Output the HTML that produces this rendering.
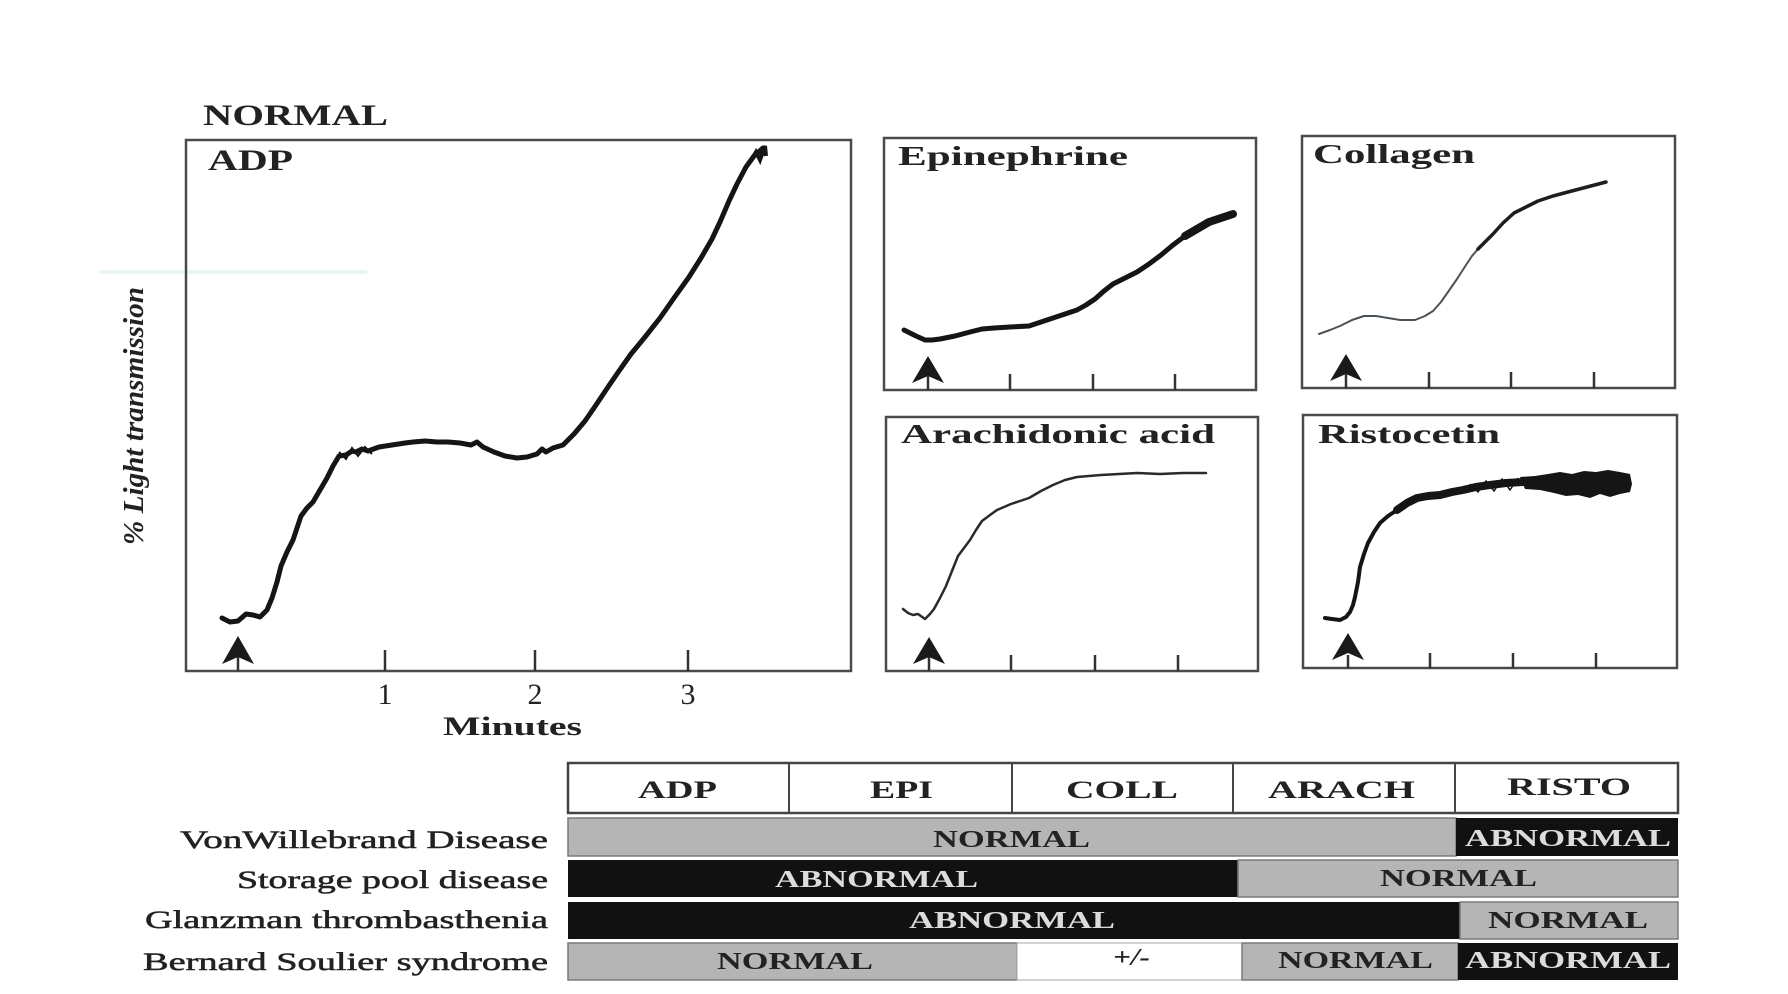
<!DOCTYPE html>
<html>
<head>
<meta charset="utf-8">
<style>
  html,body{margin:0;padding:0;background:#fff;}
  svg{display:block;}
  text{font-family:"Liberation Serif","DejaVu Serif",serif;}
</style>
</head>
<body>
<svg width="1788" height="994" viewBox="0 0 1788 994" xmlns="http://www.w3.org/2000/svg">
  <rect x="0" y="0" width="1788" height="994" fill="#ffffff"/>

  <!-- faint scan artifact -->
  <line x1="100" y1="272" x2="367" y2="272" stroke="#e4f2f6" stroke-width="3"/>

  <!-- Title -->
  <text x="203" y="125" font-size="30" font-weight="bold" fill="#222" textLength="185" lengthAdjust="spacingAndGlyphs">NORMAL</text>

  <!-- ===== ADP main panel ===== -->
  <rect x="186" y="140" width="665" height="531" fill="none" stroke="#4a4a4a" stroke-width="2.5"/>
  <text x="208" y="170" font-size="30" font-weight="bold" fill="#222" textLength="85" lengthAdjust="spacingAndGlyphs">ADP</text>
  <g stroke="#333" stroke-width="2.5">
    <line x1="385" y1="650" x2="385" y2="671"/>
    <line x1="535" y1="650" x2="535" y2="671"/>
    <line x1="688" y1="650" x2="688" y2="671"/>
    <line x1="238" y1="655" x2="238" y2="671"/>
  </g>
  <path d="M238,636 L254,664 L238,657 L222,664 Z" fill="#1a1a1a"/>
  <text x="385" y="704" font-size="30" fill="#222" text-anchor="middle">1</text>
  <text x="535" y="704" font-size="30" fill="#222" text-anchor="middle">2</text>
  <text x="688" y="704" font-size="30" fill="#222" text-anchor="middle">3</text>
  <text x="443" y="735" font-size="26" font-weight="bold" fill="#222" textLength="139" lengthAdjust="spacingAndGlyphs">Minutes</text>
  <!-- y label -->
  <text transform="translate(143,545) rotate(-90)" x="0" y="0" font-size="28" font-weight="bold" font-style="italic" fill="#222" textLength="258" lengthAdjust="spacingAndGlyphs">% Light transmission</text>
  <!-- ADP curve -->
  <polyline fill="none" stroke="#151515" stroke-width="5" stroke-linejoin="round" stroke-linecap="round"
    points="222,618 230,622 238,621 246,614 253,615 260,617 267,610 272,598 277,582 281,566 287,552 293,540 297,528 301,516 307,508 313,502 320,490 327,478 333,466 339,456 346,455 352,451 356,452 362,449 368,451 379,447 392,445 405,443 413,442 425,441 437,442 448,442 460,443 471,445 477,442 483,447 494,452 505,456 517,458 527,457 537,454 542,449 546,452 553,448 563,445 574,434 585,421 596,405 608,387 619,371 631,354 645,337 660,318 674,298 689,277 701,258 712,239 720,222 729,201 737,184 746,167 754,156 763,148"/>
  <polyline fill="none" stroke="#151515" stroke-width="2" points="339,452 346,459 352,448 358,456 365,447 372,454"/>
  <polyline fill="none" stroke="#151515" stroke-width="4" points="750,162 756,152 760,160 765,146 766,156"/>

  <!-- ===== Epinephrine ===== -->
  <rect x="884" y="138" width="372" height="252" fill="none" stroke="#4a4a4a" stroke-width="2.5"/>
  <text x="898" y="165" font-size="27" font-weight="bold" fill="#222" textLength="230" lengthAdjust="spacingAndGlyphs">Epinephrine</text>
  <g stroke="#333" stroke-width="2.5">
    <line x1="1010" y1="374" x2="1010" y2="390"/>
    <line x1="1093" y1="374" x2="1093" y2="390"/>
    <line x1="1175" y1="374" x2="1175" y2="390"/>
    <line x1="928" y1="376" x2="928" y2="390"/>
  </g>
  <path d="M928,356 L944,383 L928,376 L912,383 Z" fill="#1a1a1a"/>
  <polyline fill="none" stroke="#151515" stroke-width="5" stroke-linejoin="round" stroke-linecap="round"
    points="904,330 910,333 916,336 925,340 932,340 940,339 955,336 970,332 982,329 994,328 1010,327 1029,326 1038,323 1047,320 1062,315 1077,310 1086,305 1095,299 1104,291 1113,284 1125,278 1137,272 1149,264 1161,255 1173,245 1185,236 1197,229 1209,222"/>
  <polyline fill="none" stroke="#151515" stroke-width="8" stroke-linejoin="round" stroke-linecap="round"
    points="1185,236 1197,229 1209,222 1221,218 1233,214"/>

  <!-- ===== Collagen ===== -->
  <rect x="1302" y="136" width="373" height="252" fill="none" stroke="#4a4a4a" stroke-width="2.5"/>
  <text x="1313" y="163" font-size="27" font-weight="bold" fill="#222" textLength="162" lengthAdjust="spacingAndGlyphs">Collagen</text>
  <g stroke="#333" stroke-width="2.5">
    <line x1="1429" y1="372" x2="1429" y2="388"/>
    <line x1="1511" y1="372" x2="1511" y2="388"/>
    <line x1="1594" y1="372" x2="1594" y2="388"/>
    <line x1="1346" y1="374" x2="1346" y2="388"/>
  </g>
  <path d="M1346,354 L1362,381 L1346,374 L1330,381 Z" fill="#1a1a1a"/>
  <polyline fill="none" stroke="#4a5258" stroke-width="2" stroke-linejoin="round" stroke-linecap="round"
    points="1319,334 1330,330 1340,326 1352,320 1364,316 1376,316 1388,318 1400,320 1415,320 1425,316 1433,311 1441,302 1448,292 1457,279 1466,265 1472,256 1478,249"/>
  <polyline fill="none" stroke="#1e1e1e" stroke-width="3.5" stroke-linejoin="round" stroke-linecap="round"
    points="1478,249 1486,241 1493,234 1503,223 1514,213 1526,207 1538,201 1553,196 1568,192 1587,187 1606,182"/>

  <!-- ===== Arachidonic acid ===== -->
  <rect x="886" y="417" width="372" height="254" fill="none" stroke="#4a4a4a" stroke-width="2.5"/>
  <text x="901" y="443" font-size="27" font-weight="bold" fill="#222" textLength="314" lengthAdjust="spacingAndGlyphs">Arachidonic acid</text>
  <g stroke="#333" stroke-width="2.5">
    <line x1="1011" y1="655" x2="1011" y2="671"/>
    <line x1="1095" y1="655" x2="1095" y2="671"/>
    <line x1="1178" y1="655" x2="1178" y2="671"/>
    <line x1="929" y1="657" x2="929" y2="671"/>
  </g>
  <path d="M929,637 L945,664 L929,657 L913,664 Z" fill="#1a1a1a"/>
  <polyline fill="none" stroke="#2a2a2a" stroke-width="2.5" stroke-linejoin="round" stroke-linecap="round"
    points="903,609 908,613 913,615 918,614 925,619 930,614 934,609 940,598 946,586 952,571 958,556 964,548 970,540 976,530 982,521 990,515 997,510 1004,507 1011,504 1020,501 1029,498 1041,491 1053,485 1065,480 1077,477 1089,476 1101,475 1119,474 1137,473 1160,474 1183,473 1206,473"/>

  <!-- ===== Ristocetin ===== -->
  <rect x="1303" y="415" width="374" height="253" fill="none" stroke="#4a4a4a" stroke-width="2.5"/>
  <text x="1318" y="443" font-size="27" font-weight="bold" fill="#222" textLength="182" lengthAdjust="spacingAndGlyphs">Ristocetin</text>
  <g stroke="#333" stroke-width="2.5">
    <line x1="1430" y1="653" x2="1430" y2="668"/>
    <line x1="1513" y1="653" x2="1513" y2="668"/>
    <line x1="1596" y1="653" x2="1596" y2="668"/>
    <line x1="1348" y1="655" x2="1348" y2="668"/>
  </g>
  <path d="M1348,633 L1364,660 L1348,653 L1332,660 Z" fill="#1a1a1a"/>
  <polyline fill="none" stroke="#151515" stroke-width="4" stroke-linejoin="round" stroke-linecap="round"
    points="1325,618 1332,619 1340,620 1346,617 1350,612 1353,605 1355,597 1358,582 1360,567 1364,554 1368,543 1374,532 1380,523 1388,516 1397,510"/>
  <polyline fill="none" stroke="#151515" stroke-width="8" stroke-linejoin="round" stroke-linecap="round"
    points="1397,510 1407,503 1417,498 1428,496 1440,495 1452,492 1463,490 1476,487 1490,485 1506,483 1523,482"/>
  <path d="M1520,477 L1535,476 L1548,474 L1560,472 L1572,474 L1584,471 L1596,472 L1608,470 L1620,472 L1630,474 L1632,484 L1630,492 L1620,494 L1610,497 L1600,494 L1590,498 L1578,495 L1566,496 L1554,493 L1540,490 L1525,489 Z" fill="#151515"/>
  <polyline fill="none" stroke="#151515" stroke-width="1.5" points="1470,484 1478,492 1486,481 1494,491 1502,479 1510,490 1518,478"/>

  <!-- ===== Table ===== -->
  <rect x="568" y="763" width="1110" height="50" fill="#ffffff" stroke="#444" stroke-width="2.5"/>
  <g stroke="#444" stroke-width="2">
    <line x1="789" y1="763" x2="789" y2="813"/>
    <line x1="1012" y1="763" x2="1012" y2="813"/>
    <line x1="1233" y1="763" x2="1233" y2="813"/>
    <line x1="1455" y1="763" x2="1455" y2="813"/>
  </g>
  <g font-size="25" font-weight="bold" fill="#222">
    <text x="638" y="798" textLength="79" lengthAdjust="spacingAndGlyphs">ADP</text>
    <text x="870" y="798" textLength="63" lengthAdjust="spacingAndGlyphs">EPI</text>
    <text x="1066" y="798" textLength="112" lengthAdjust="spacingAndGlyphs">COLL</text>
    <text x="1268" y="798" textLength="147" lengthAdjust="spacingAndGlyphs">ARACH</text>
    <text x="1507" y="795" textLength="124" lengthAdjust="spacingAndGlyphs">RISTO</text>
  </g>

  <!-- row 1 -->
  <rect x="568" y="818" width="888" height="38" fill="#b5b5b5" stroke="#7a7a7a" stroke-width="1.5"/>
  <rect x="1456" y="818" width="222" height="38" fill="#111"/>
  <!-- row 2 -->
  <rect x="568" y="860" width="670" height="37" fill="#111"/>
  <rect x="1238" y="860" width="440" height="37" fill="#b5b5b5" stroke="#7a7a7a" stroke-width="1.5"/>
  <!-- row 3 -->
  <rect x="568" y="902" width="892" height="37" fill="#111"/>
  <rect x="1460" y="902" width="218" height="37" fill="#b5b5b5" stroke="#7a7a7a" stroke-width="1.5"/>
  <!-- row 4 -->
  <rect x="568" y="943" width="449" height="37" fill="#b5b5b5" stroke="#7a7a7a" stroke-width="1.5"/>
  <rect x="1017" y="943" width="225" height="37" fill="#ffffff" stroke="#aaa" stroke-width="1"/>
  <rect x="1242" y="943" width="216" height="37" fill="#b5b5b5" stroke="#7a7a7a" stroke-width="1.5"/>
  <rect x="1458" y="943" width="220" height="37" fill="#111"/>

  <g font-size="24" font-weight="bold">
    <text x="933" y="847" fill="#222" textLength="157" lengthAdjust="spacingAndGlyphs">NORMAL</text>
    <text x="1465" y="846" fill="#dcdcdc" textLength="206" lengthAdjust="spacingAndGlyphs">ABNORMAL</text>
    <text x="775" y="887" fill="#dcdcdc" textLength="203" lengthAdjust="spacingAndGlyphs">ABNORMAL</text>
    <text x="1380" y="886" fill="#222" textLength="157" lengthAdjust="spacingAndGlyphs">NORMAL</text>
    <text x="909" y="928" fill="#dcdcdc" textLength="206" lengthAdjust="spacingAndGlyphs">ABNORMAL</text>
    <text x="1488" y="928" fill="#222" textLength="160" lengthAdjust="spacingAndGlyphs">NORMAL</text>
    <text x="717" y="969" fill="#222" textLength="156" lengthAdjust="spacingAndGlyphs">NORMAL</text>
    <text x="1113" y="965" fill="#222" font-style="italic" textLength="37" lengthAdjust="spacingAndGlyphs">+/-</text>
    <text x="1278" y="968" fill="#222" textLength="155" lengthAdjust="spacingAndGlyphs">NORMAL</text>
    <text x="1465" y="968" fill="#dcdcdc" textLength="206" lengthAdjust="spacingAndGlyphs">ABNORMAL</text>
  </g>

  <!-- row labels -->
  <g font-size="25" fill="#222" stroke="#222" stroke-width="0.5">
    <text x="180" y="848" textLength="368" lengthAdjust="spacingAndGlyphs">VonWillebrand Disease</text>
    <text x="237" y="888" textLength="311" lengthAdjust="spacingAndGlyphs">Storage pool disease</text>
    <text x="145" y="928" textLength="403" lengthAdjust="spacingAndGlyphs">Glanzman thrombasthenia</text>
    <text x="143" y="970" textLength="405" lengthAdjust="spacingAndGlyphs">Bernard Soulier syndrome</text>
  </g>
</svg>
</body>
</html>
